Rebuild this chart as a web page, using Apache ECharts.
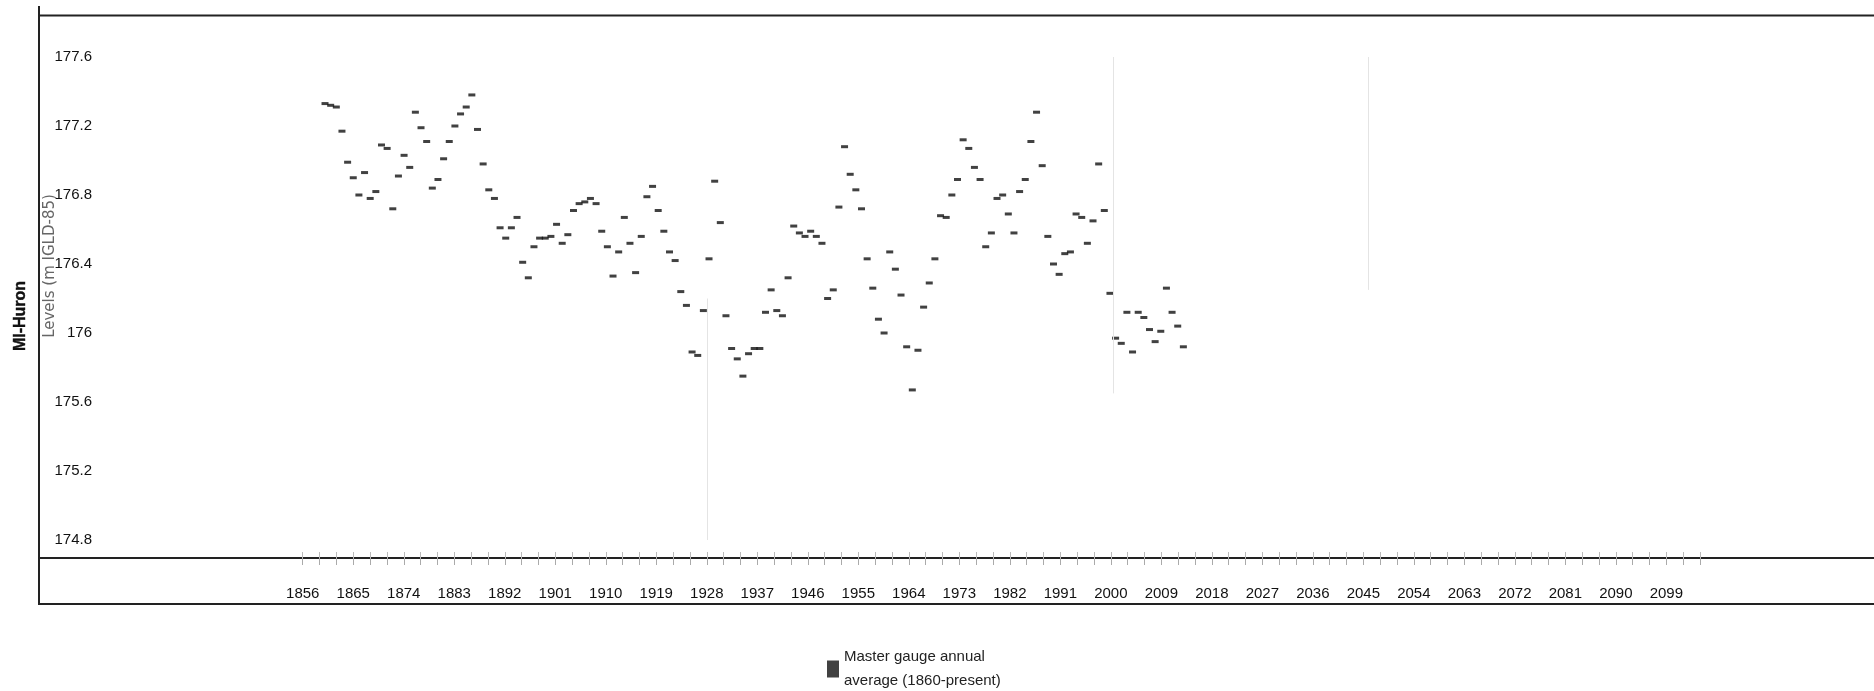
<!DOCTYPE html>
<html>
<head>
<meta charset="utf-8">
<script src="https://cdn.jsdelivr.net/npm/echarts@6/dist/echarts.min.js"></script>
<style>
html,body{margin:0;padding:0;background:#ffffff;}
#chart{width:1874px;height:691px;}
</style>
</head>
<body>
<div id="chart"></div>
<script>
// ---- data ----
const firstYear = 1860;
const levels = [
  177.33,177.32,177.31,177.17,176.99,176.90,176.80,176.93,176.78,176.82, // 1860-1869
  177.09,177.07,176.72,176.91,177.03,176.96,177.28,177.19,177.11,176.84, // 1870-1879
  176.89,177.01,177.11,177.20,177.27,177.31,177.38,177.18,176.98,176.83, // 1880-1889
  176.78,176.61,176.55,176.61,176.67,176.41,176.32,176.50,176.55,176.55, // 1890-1899
  176.56,176.63,176.52,176.57,176.71,176.75,176.76,176.78,176.75,176.59, // 1900-1909
  176.50,176.33,176.47,176.67,176.52,176.35,176.56,176.79,176.85,176.71, // 1910-1919
  176.59,176.47,176.42,176.24,176.16,175.89,175.87,176.13,176.43,176.88, // 1920-1929
  176.64,176.10,175.91,175.85,175.75,175.88,175.91,175.91,176.12,176.25, // 1930-1939
  176.13,176.10,176.32,176.62,176.58,176.56,176.59,176.56,176.52,176.20, // 1940-1949
  176.25,176.73,177.08,176.92,176.83,176.72,176.43,176.26,176.08,176.00, // 1950-1959
  176.47,176.37,176.22,175.92,175.67,175.90,176.15,176.29,176.43,176.68, // 1960-1969
  176.67,176.80,176.89,177.12,177.07,176.96,176.89,176.50,176.58,176.78, // 1970-1979
  176.80,176.69,176.58,176.82,176.89,177.11,177.28,176.97,176.56,176.40, // 1980-1989
  176.34,176.46,176.47,176.69,176.67,176.52,176.65,176.98,176.71,176.23, // 1990-1999
  175.97,175.94,176.12,175.89,176.12,176.09,176.02,175.95,176.01,176.26, // 2000-2009
  176.12,176.04,175.92                                                   // 2010-2012
];
const tickLabels = ['1856','1865','1874','1883','1892','1901','1910','1919','1928','1937','1946','1955','1964','1973','1982','1991','2000','2009','2018','2027','2036','2045','2054','2063','2072','2081','2090','2099'];
const yTicks = [174.8, 175.2, 175.6, 176, 176.4, 176.8, 177.2, 177.6];
const seriesName = 'Master gauge annual\naverage (1860-present)';
const yAxisTitle = 'Levels (m IGLD-85)';
const panelTitle = 'MI-Huron';
// faint vertical rules visible in the source picture: [year, fromLevel, toLevel]
const faintRules = [[1927.6, 176.2, 174.8], [1999.5, 177.6, 175.65], [2044.7, 177.6, 176.25]];

// category range of the labelled axis (years) and range of the plotting scale
const axisStartYear = 1809, axisEndYear = 2136;
const tickFirst = 1856, tickLast = 2105;
const plotMinYear = 1809.35, plotMaxYear = 2134.3;

const categories = [];
for (let y = axisStartYear; y <= axisEndYear; y++) categories.push(String(y));
const points = levels.map((v, i) => [firstYear + i, v]);

const chart = echarts.init(document.getElementById('chart'), null, {renderer: 'canvas'});
const labelFont = "'Liberation Sans',Arial,sans-serif";
const tickShown = (idx, val) => { const y = +val; return y >= tickFirst && y <= tickLast && (y - tickFirst) % 3 === 0; };

chart.setOption({
  animation: false,
  backgroundColor: '#ffffff',
  grid: {left: 39, right: 0, top: 57, bottom: 151, containLabel: false},
  xAxis: [{
    type: 'category',
    data: categories,
    boundaryGap: false,
    offset: 18,
    axisLine: {show: true, lineStyle: {color: '#222', width: 2}},
    axisTick: {show: true, length: 7, interval: tickShown, lineStyle: {color: '#aaa', width: 1}},
    axisLabel: {
      interval: (idx, val) => tickLabels.indexOf(val) >= 0,
      margin: 28, color: '#111', fontSize: 15, fontFamily: labelFont
    },
    splitLine: {show: false}
  }, {
    type: 'value',
    show: false,
    min: plotMinYear, max: plotMaxYear,
    splitLine: {show: false}
  }, {
    // upper half of the tick marks, which cross the axis line
    type: 'category',
    data: categories,
    boundaryGap: false,
    position: 'bottom',
    offset: 18,
    axisLine: {show: false},
    axisTick: {show: true, inside: true, length: 6, interval: tickShown, lineStyle: {color: '#bbb', width: 1}},
    axisLabel: {show: false},
    splitLine: {show: false}
  }],
  yAxis: {
    type: 'value',
    min: yTicks[0], max: yTicks[yTicks.length - 1], interval: 0.4,
    offset: -61,
    axisLine: {show: false},
    axisTick: {show: false},
    splitLine: {show: false},
    axisLabel: {margin: 8, color: '#111', fontSize: 15, fontFamily: labelFont}
  },
  legend: {
    show: true,
    left: 827, top: 645, padding: 0,
    icon: 'rect', itemWidth: 12, itemHeight: 17,
    textStyle: {fontSize: 15, lineHeight: 24, color: '#222', fontFamily: labelFont},
    data: [seriesName]
  },
  series: [{
    name: seriesName,
    type: 'scatter',
    xAxisIndex: 1,
    data: points,
    symbol: 'rect',
    symbolSize: [7, 3],
    itemStyle: {color: '#111'},
    markLine: {
      silent: true, symbol: 'none', label: {show: false},
      lineStyle: {color: '#e4e4e4', width: 1, type: 'solid'},
      data: faintRules.map(r => [{coord: [r[0], r[1]]}, {coord: [r[0], r[2]]}])
    }
  }],
  graphic: [
    {type: 'line', shape: {x1: 39, y1: 6, x2: 39, y2: 605}, style: {stroke: '#222', lineWidth: 2}, silent: true},
    {type: 'line', shape: {x1: 39, y1: 15.5, x2: 1874, y2: 15.5}, style: {stroke: '#222', lineWidth: 2}, silent: true},
    {type: 'line', shape: {x1: 39, y1: 604, x2: 1874, y2: 604}, style: {stroke: '#222', lineWidth: 2}, silent: true},
    {type: 'text', x: 21, y: 316, rotation: Math.PI / 2,
     style: {text: panelTitle, font: "bold 16px 'Liberation Sans',Arial,sans-serif", fill: '#111', stroke: '#111', lineWidth: 0.4, textAlign: 'center', textVerticalAlign: 'middle'}},
    {type: 'text', x: 50, y: 266, rotation: Math.PI / 2,
     style: {text: yAxisTitle, font: "15px 'DejaVu Sans',sans-serif", fill: '#666', textAlign: 'center', textVerticalAlign: 'middle'}}
  ]
});
</script>
</body>
</html>
